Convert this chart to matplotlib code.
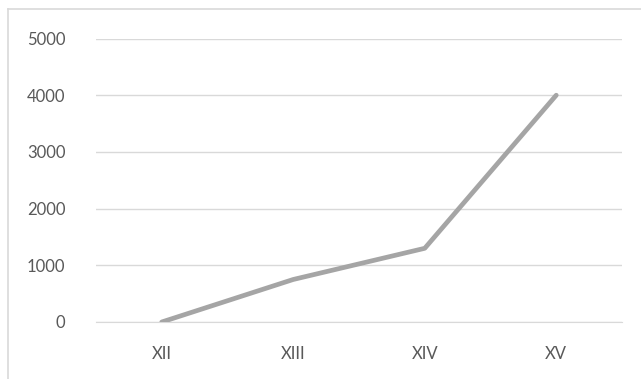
import matplotlib.pyplot as plt
from matplotlib.lines import Line2D

siglos = ["XII", "XIII", "XIV", "XV"]
valores = [0, 750, 1300, 4000]
yticks = [0, 1000, 2000, 3000, 4000, 5000]

plt.rcParams['font.family'] = ['Lato', 'DejaVu Sans']

W, H = 641, 379
fig = plt.figure(figsize=(W / 100, H / 100), dpi=100)
ax = fig.add_axes([96 / W, (H - 322) / H, (622 - 96) / W, (322 - 38.5) / H])

x = range(len(siglos))
ax.plot(x, valores, color="#A5A5A5", linewidth=3.4, solid_capstyle="round", zorder=3)

ax.set_xlim(-0.5, len(siglos) - 0.5)
ax.set_ylim(0, 5000)
ax.set_yticks(yticks)
ax.set_yticklabels([str(v) for v in yticks])
ax.set_xticks(list(x))
ax.set_xticklabels(siglos)
ax.grid(axis="y", color="#D9D9D9", linewidth=1.0)
ax.set_axisbelow(True)
for s in ax.spines.values():
    s.set_visible(False)
ax.spines["bottom"].set_visible(True)
ax.spines["bottom"].set_color("#D9D9D9")
ax.tick_params(length=0, colors="#595959", labelsize=12)
ax.tick_params(axis="y", pad=22)
ax.tick_params(axis="x", pad=17)

# borde del grafico (recortado)
fig.add_artist(Line2D([8 / W, 1], [1 - 9 / H, 1 - 9 / H], color="#D9D9D9", linewidth=1.2))
fig.add_artist(Line2D([8 / W, 8 / W], [0, 1 - 9 / H], color="#D9D9D9", linewidth=1.2))

fig.savefig("out.png", dpi=100, facecolor="white")
